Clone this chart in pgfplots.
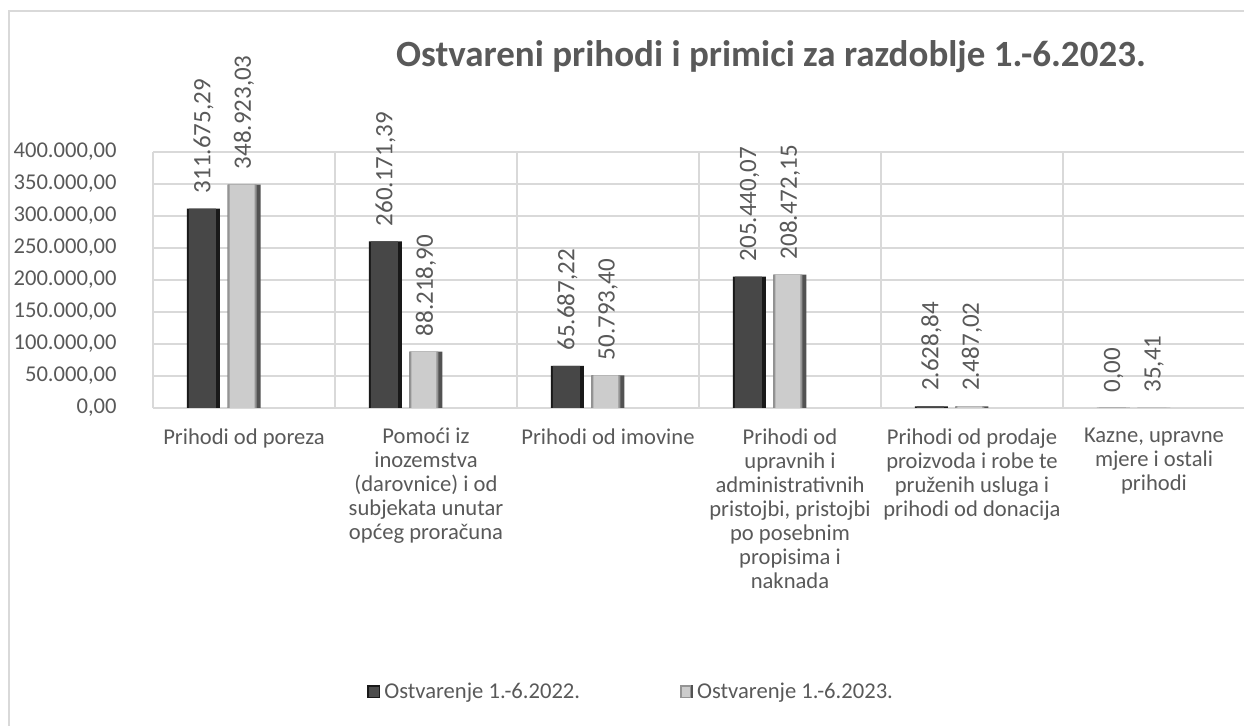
\documentclass[border=0pt]{standalone}
\usepackage{fontspec}
\setmainfont{Carlito}
\usepackage{pgfplots}
\pgfplotsset{compat=1.18}
\definecolor{txt}{RGB}{89,89,89}
\definecolor{gridc}{RGB}{217,217,217}
\pgfplotstableread{
x y lab
0 311675.29 311.675,29
1 260171.39 260.171,39
2 65687.22 65.687,22
3 205440.07 205.440,07
4 2628.84 2.628,84
5 0 0,00
}\tabA
\pgfplotstableread{
x y lab
0 348923.03 348.923,03
1 88218.90 88.218,90
2 50793.40 50.793,40
3 208472.15 208.472,15
4 2487.02 2.487,02
5 35.41 35,41
}\tabB
\begin{document}
\begin{tikzpicture}
\useasboundingbox (0,0) rectangle (622pt,363pt);
\draw[gridc, line width=1.2pt] (4.5pt,-20pt) rectangle (660pt,357.5pt);
\node[txt, font=\fontsize{18.5}{22}\selectfont\bfseries] at (385.5pt,334.5pt) {Ostvareni prihodi i primici za razdoblje 1.-6.2023.};
\begin{axis}[
  at={(76.5pt,159pt)}, anchor=south west,
  scale only axis, width=546pt, height=128pt,
  xmin=-0.5, xmax=5.5, ymin=0, ymax=400000,
  clip=false,
  axis line style={draw=none},
  major tick length=0pt, minor tick length=0pt,
  ytick={0,50000,...,400000},
  ymajorgrids,
  xtick={0,...,5},
  minor xtick={-0.5,0.5,...,5.5},
  xminorgrids,
  grid style={gridc, line width=0.9pt},
  minor grid style={gridc, line width=0.9pt},
  scaled y ticks=false,
  yticklabel style={/pgf/number format/.cd, fixed, fixed zerofill, precision=2, use comma, 1000 sep={.}, assume math mode=true, /tikz/.cd, font=\fontsize{11.3}{13}\selectfont, text=txt, inner sep=0pt, xshift=-18pt},
  xticklabels={{Prihodi od poreza},{Pomoći iz\\inozemstva\\(darovnice) i od\\subjekata unutar\\općeg proračuna},{Prihodi od imovine},{Prihodi od\\upravnih i\\administrativnih\\pristojbi, pristojbi\\po posebnim\\propisima i\\naknada},{Prihodi od prodaje\\proizvoda i robe te\\pruženih usluga i\\prihodi od donacija},{Kazne, upravne\\mjere i ostali\\prihodi}},
  xticklabel style={align=center, font=\fontsize{11.3}{12}\selectfont, text=txt, anchor=north, inner sep=0pt, yshift=-10pt},
  ybar, bar width=16.5pt,
  every node near coord/.append style={rotate=90, anchor=west, inner xsep=7.5pt, inner ysep=0pt, font=\fontsize{12.5}{15}\selectfont, text=txt},
  legend columns=2,
  legend style={at={(0.1904,-1.109)}, anchor=west, draw=none, fill=none, font=\fontsize{11.3}{13}\selectfont, text=txt, /tikz/every even column/.append style={column sep=48pt}},
]
% base bars (edge colours) with labels
\addplot[draw=none, fill=black!90, bar shift=-20.25pt, bar width=16.5pt,
  nodes near coords, point meta=explicit symbolic,
  legend image code/.code={\fill[black!90] (-1pt,-3.3pt) rectangle (5.5pt,3.3pt); \fill[black!70] (-0.3pt,-2.6pt) rectangle (4.6pt,2.6pt);}]
  table[x=x, y=y, meta=lab] {\tabA};
\addplot[draw=none, fill=black!68, bar shift=0pt, bar width=16.5pt,
  nodes near coords, point meta=explicit symbolic,
  legend image code/.code={\fill[black!68] (-1pt,-3.3pt) rectangle (5.5pt,3.3pt); \fill[black!42] (-1pt,-3.3pt) rectangle (4.5pt,3.3pt); \fill[black!20] (-0.3pt,-2.6pt) rectangle (3.8pt,2.6pt);}]
  table[x=x, y=y, meta=lab] {\tabB};
% bevel overlays
\addplot[forget plot, draw=none, fill=black!72, bar shift=-20.75pt, bar width=13.5pt] table[x=x, y=y] {\tabA};
\addplot[forget plot, draw=none, fill=black!42, bar shift=-1pt, bar width=14.5pt] table[x=x, y=y] {\tabB};
\addplot[forget plot, draw=none, fill=black!20, bar shift=-1pt, bar width=12.5pt] table[x=x, y=y] {\tabB};
\legend{Ostvarenje 1.-6.2022., Ostvarenje 1.-6.2023.}
\end{axis}
\end{tikzpicture}
\end{document}
